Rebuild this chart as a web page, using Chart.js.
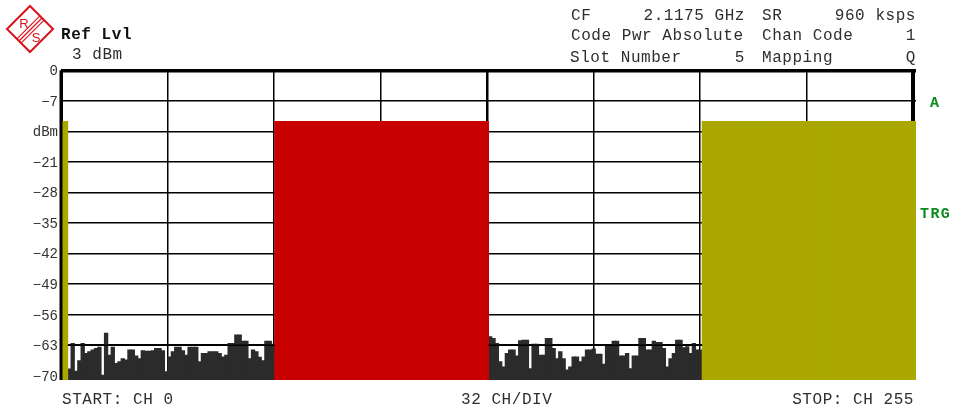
<!DOCTYPE html>
<html><head><meta charset="utf-8">
<style>html,body{margin:0;padding:0;background:#fff;overflow:hidden}#w{position:relative;width:957px;height:409px}</style>
<script src="https://cdn.jsdelivr.net/npm/chart.js@4"></script>
</head><body><div id="w"><canvas id="c" width="957" height="409"></canvas></div>
<script>
const yTicks=[0,-7,-14,-21,-28,-35,-42,-49,-56,-63,-70];
const activeLevel=-11.7;
const noiseLow=[-68.5,-62.6,-69,-66.6,-62.6,-64.9,-64.5,-64.1,-63.8,-63.5,-69.9,-60.3,-65.3,-63.5,-67.2,-66.8,-66.1,-66.4,-64.1,-64.1,-65.5,-66.1,-64.3,-64.4,-64.4,-64.3,-63.8,-63.8,-64.3,-69.1,-65.7,-64.5,-63.5,-63.5,-64.3,-65.3,-63.5,-63.5,-63.5,-66.8,-64.9,-64.9,-64.5,-64.5,-64.5,-64.9,-65.7,-65.3,-62.6,-62.6,-60.7,-60.7,-62.1,-62.1,-66.1,-64.1,-64.5,-65.8,-66.6,-62.1,-62.1,-62.8];
const noiseHigh=[-61.1,-61.5,-62.6,-66.8,-68,-64.9,-64.1,-64.1,-65.5,-62,-61.9,-61.9,-68.4,-62.8,-62.8,-65.3,-65.3,-61.5,-61.5,-63.8,-66.1,-64.5,-66.1,-68.7,-68,-65.7,-65.7,-66.8,-65.7,-64.1,-64.1,-63.9,-65.1,-65.1,-67.4,-63,-63,-62.1,-62.1,-65.5,-65.5,-64.9,-68.4,-65.5,-65.5,-61.5,-61.5,-64.1,-64.1,-62.1,-62.4,-62.4,-63.8,-68,-66.1,-64.9,-61.9,-61.9,-63.6,-63.4,-64.9,-62.6,-64.1,-64.1];
const headerLines=[
 ["CF",571,19.5,"left"],["2.1175 GHz",745,19.5,"right"],["SR",762,19.5,"left"],["960 ksps",916,19.5,"right"],
 ["Code Pwr Absolute",571,39.5,"left"],["Chan Code",762,39.5,"left"],["1",916,39.5,"right"],
 ["Slot Number",570,61.5,"left"],["5",745,61.5,"right"],["Mapping",762,61.5,"left"],["Q",916,61.5,"right"],
 ["3 dBm",72,59,"left"],
 ["START: CH 0",62,403.5,"left"],["32 CH/DIV",461,403.5,"left"],["STOP: CH 255",914,403.5,"right"]];
const channels=[];for(let i=0;i<256;i++)channels.push(i);
const yMin=-71;
const none=n=>new Array(n).fill(null);
const active=n=>new Array(n).fill(activeLevel);
const yellowData=[...active(2),...none(190),...active(64)];
const redData=[...none(64),...active(64),...none(128)];
const noiseData=[...none(2),...noiseLow,...none(64),...noiseHigh,...none(64)];
const MONO='"Liberation Mono", monospace';
const art={id:'art',
 afterDatasetsDraw(ch){
  const g=ch.ctx,y=ch.scales.y.getPixelForValue(-63),x=ch.scales.x,a=ch.chartArea;
  g.save();g.strokeStyle='#000';g.lineWidth=1.5;g.beginPath();
  g.moveTo(x.getPixelForValue(2)-1.6,y);g.lineTo(x.getPixelForValue(63)+1.6,y);
  g.moveTo(x.getPixelForValue(128)-1.6,y);g.lineTo(x.getPixelForValue(191)+1.6,y);
  g.stroke();
  g.lineWidth=3;g.beginPath();g.moveTo(a.left,a.top);g.lineTo(a.left,a.bottom);g.stroke();
  g.restore();
 },
 afterDraw(ch){
  const g=ch.ctx;g.save();
  g.textBaseline='alphabetic';g.fillStyle='#2e2e2e';g.font='16px '+MONO;g.letterSpacing='0.55px';
  headerLines.forEach(t=>{g.textAlign=t[3];g.fillText(t[0],t[1],t[2]);});
  g.fillStyle='#111';g.font='bold 16px '+MONO;g.textAlign='left';g.fillText('Ref Lvl',61,39);
  g.fillStyle='#0b8a1e';g.font='bold 15px '+MONO;g.letterSpacing='1.4px';
  g.fillText('A',930,107);g.fillText('TRG',920,218);
  g.letterSpacing='0px';
  // logo
  g.strokeStyle='#d8121c';g.fillStyle='#d8121c';g.lineWidth=2;
  g.beginPath();g.moveTo(30,6);g.lineTo(53,29);g.lineTo(30,52);g.lineTo(7,29);g.closePath();g.stroke();
  g.lineWidth=1.2;
  [-3,0,3].forEach(o=>{g.beginPath();g.moveTo(19+o*.7,41+o*.7);g.lineTo(42+o*.7,18+o*.7);g.stroke();});
  g.font='13px "Liberation Sans"';g.textAlign='center';
  g.fillText('R',24,28);g.fillText('S',36,42);
  g.restore();
 }};
const tv=c=>c.tick?c.tick.value:null;
new Chart(document.getElementById('c'),{
 type:'bar',
 data:{labels:channels,datasets:[
  {data:yellowData,backgroundColor:'#aaa800',base:yMin},
  {data:redData,backgroundColor:'#c80000',base:yMin},
  {data:noiseData,backgroundColor:'#2b2b2b',base:yMin}]},
 plugins:[art],
 options:{responsive:false,animation:false,
  layout:{padding:{left:0,right:41,top:70.5,bottom:29}},
  datasets:{bar:{barPercentage:1,categoryPercentage:1,grouped:false,borderWidth:0,inflateAmount:0.5}},
  plugins:{legend:{display:false},tooltip:{enabled:false},title:{display:false}},
  scales:{
   x:{display:false,grid:{display:false}},
   div:{type:'linear',position:'bottom',bounds:'data',offset:false,min:0,max:855/106.5,
    border:{display:false},
    ticks:{display:false,stepSize:1,includeBounds:false},
    afterBuildTicks(s){s.ticks=[0,1,2,3,4,5,6,7,8].map(v=>({value:v}));},
    afterFit(s){s.height=0;},
    grid:{offset:false,drawTicks:false,color:'#000',lineWidth:c=>tv(c)===8?4:(tv(c)===4?2.5:(tv(c)===0?3:1.5))}},
   y:{min:yMin,max:0,bounds:'data',
    border:{display:false},
    afterFit(s){s.width=61;},
    afterBuildTicks(s){s.ticks=yTicks.map(v=>({value:v}));},
    ticks:{padding:3,autoSkip:false,labelOffset:1.2,color:'#333',font:{family:'"Liberation Mono"',size:14},
     callback:v=>v===-14?'dBm':(v===0?'0':String(v).replace('-','−'))},
    grid:{drawTicks:false,color:'#000',lineWidth:c=>tv(c)===0?3.5:1.5}}
  }}
});
</script></body></html>
